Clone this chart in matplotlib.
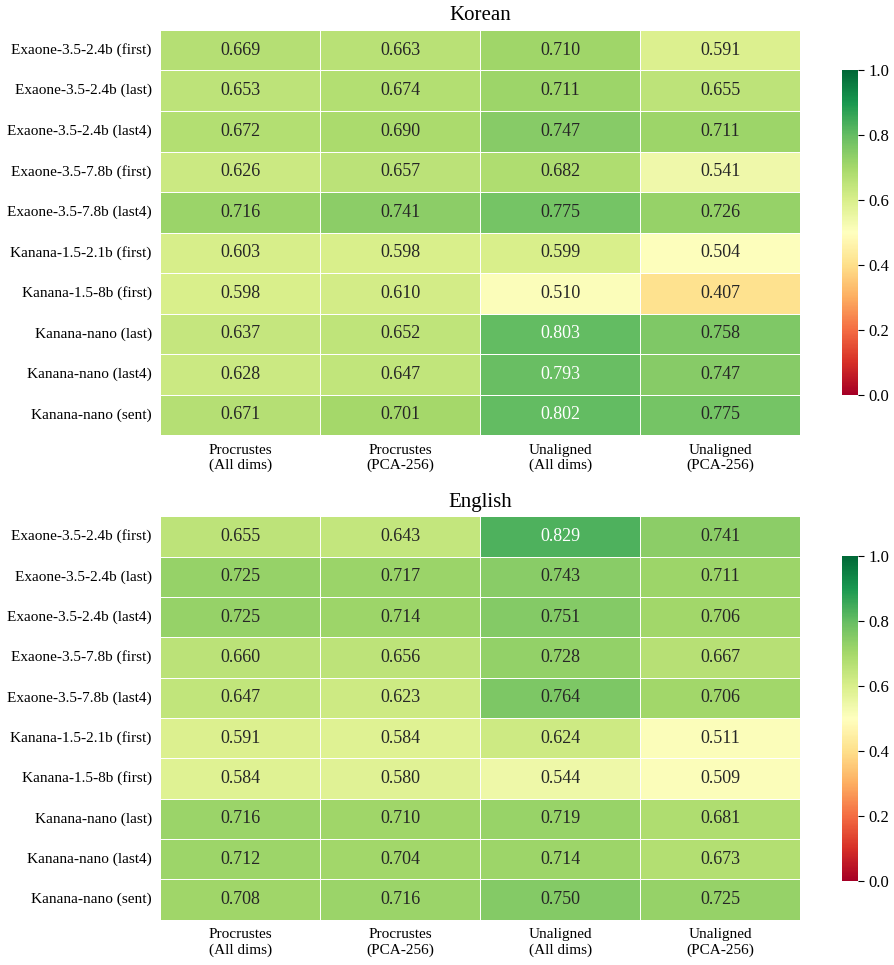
import numpy as np
import pandas as pd
import matplotlib
matplotlib.use('Agg')
import matplotlib.pyplot as plt
import seaborn as sns

plt.rcParams['font.family'] = ['Liberation Serif', 'DejaVu Serif']

models = ['Exaone-3.5-2.4b (first)', 'Exaone-3.5-2.4b (last)', 'Exaone-3.5-2.4b (last4)',
          'Exaone-3.5-7.8b (first)', 'Exaone-3.5-7.8b (last4)', 'Kanana-1.5-2.1b (first)',
          'Kanana-1.5-8b (first)', 'Kanana-nano (last)', 'Kanana-nano (last4)', 'Kanana-nano (sent)']
methods = ['Procrustes\n(All dims)', 'Procrustes\n(PCA-256)', 'Unaligned\n(All dims)', 'Unaligned\n(PCA-256)']

korean = [
    [0.669, 0.663, 0.710, 0.591],
    [0.653, 0.674, 0.711, 0.655],
    [0.672, 0.690, 0.747, 0.711],
    [0.626, 0.657, 0.682, 0.541],
    [0.716, 0.741, 0.775, 0.726],
    [0.603, 0.598, 0.599, 0.504],
    [0.598, 0.610, 0.510, 0.407],
    [0.637, 0.652, 0.803, 0.758],
    [0.628, 0.647, 0.793, 0.747],
    [0.671, 0.701, 0.802, 0.775],
]
english = [
    [0.655, 0.643, 0.829, 0.741],
    [0.725, 0.717, 0.743, 0.711],
    [0.725, 0.714, 0.751, 0.706],
    [0.660, 0.656, 0.728, 0.667],
    [0.647, 0.623, 0.764, 0.706],
    [0.591, 0.584, 0.624, 0.511],
    [0.584, 0.580, 0.544, 0.509],
    [0.716, 0.710, 0.719, 0.681],
    [0.712, 0.704, 0.714, 0.673],
    [0.708, 0.716, 0.750, 0.725],
]

fig = plt.figure(figsize=(8.95, 9.65), dpi=100)

panels = [
    ('Korean', korean, [0.179, 0.549, 0.715, 0.420], [0.941, 0.591, 0.018, 0.336]),
    ('English', english, [0.179, 0.047, 0.715, 0.418], [0.941, 0.087, 0.018, 0.337]),
]

for title, vals, ax_pos, cb_pos in panels:
    ax = fig.add_axes(ax_pos)
    cax = fig.add_axes(cb_pos)
    df = pd.DataFrame(vals, index=models, columns=methods)
    sns.heatmap(df, ax=ax, cbar_ax=cax, cmap='RdYlGn', vmin=0, vmax=1,
                annot=True, fmt='.3f', annot_kws={'fontsize': 13},
                linewidths=0.6, linecolor='white')
    ax.set_title(title, fontsize=15, pad=7)
    ax.tick_params(axis='both', length=0, labelsize=11)
    ax.tick_params(axis='y', pad=6)
    ax.tick_params(axis='x', pad=6)
    ax.set_yticklabels(ax.get_yticklabels(), rotation=0)
    ax.set_xticklabels(ax.get_xticklabels(), rotation=0)
    cax.tick_params(labelsize=12, length=4)
    cax.set_yticks([0.0, 0.2, 0.4, 0.6, 0.8, 1.0])

fig.savefig('out.png', dpi=100)
